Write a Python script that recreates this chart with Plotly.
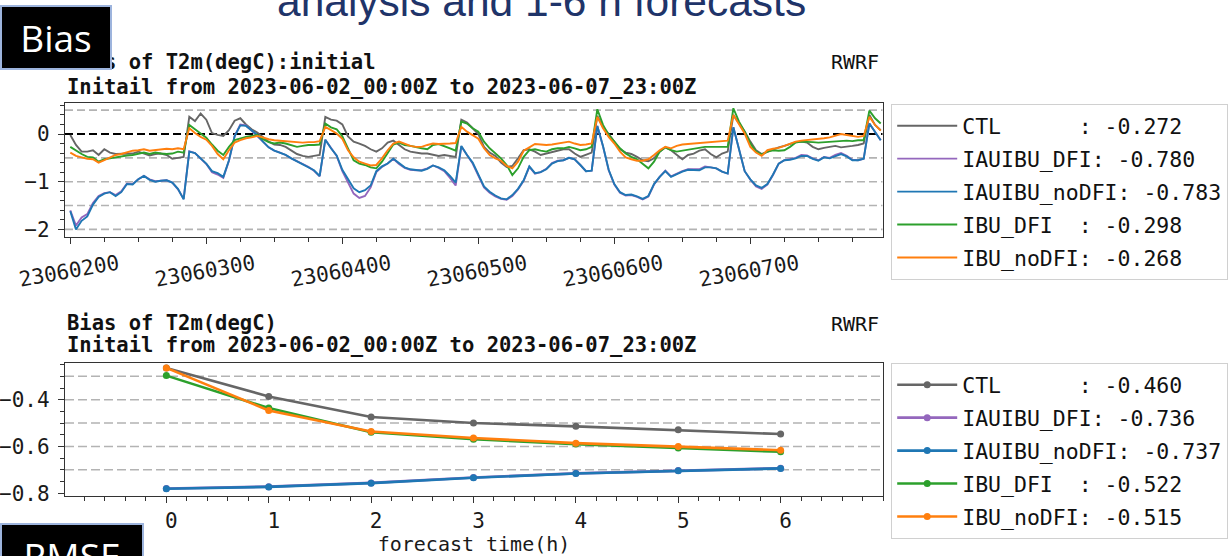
import plotly.graph_objects as go
import pandas as pd

W, H = 1228, 556

# ---------------- data ----------------
init_times = pd.date_range("2023-06-02 00:00", "2023-06-07 23:00", freq="h")
lead_hours = [0, 1, 2, 3, 4, 5, 6]

exp_names = ["CTL", "IAUIBU_DFI", "IAUIBU_noDFI", "IBU_DFI", "IBU_noDFI"]
exp_colors = ["#666666", "#9467bd", "#1f77b4", "#2ca02c", "#ff7f0e"]

init_means = [-0.272, -0.780, -0.783, -0.298, -0.268]
fcst_means = [-0.460, -0.736, -0.737, -0.522, -0.515]

ctl_init = [
    -0.02, -0.23, -0.37, -0.37, -0.34, -0.44, -0.32, -0.39, -0.42, -0.42, -0.42, -0.41,
    -0.37, -0.41, -0.45, -0.42, -0.41, -0.44, -0.52, -0.50, -0.48, 0.36, 0.27, 0.43,
    0.30, 0.02, -0.02, -0.04, 0.08, 0.28, 0.33, 0.20, 0.10, 0.03, -0.07, -0.16,
    -0.22, -0.23, -0.27, -0.34, -0.42, -0.46, -0.48, -0.46, -0.44, 0.36, 0.30, 0.28,
    0.20, -0.05, -0.16, -0.20, -0.25, -0.32, -0.37, -0.30, -0.18, -0.14, -0.23, -0.32,
    -0.37, -0.39, -0.41, -0.41, -0.44, -0.46, -0.44, -0.46, -0.48, 0.30, 0.24, 0.12,
    0.00, -0.27, -0.39, -0.46, -0.60, -0.69, -0.67, -0.51, -0.34, -0.32, -0.37, -0.44,
    -0.41, -0.37, -0.34, -0.32, -0.32, -0.41, -0.48, -0.44, -0.39, 0.38, 0.15, 0.00,
    -0.16, -0.32, -0.39, -0.42, -0.48, -0.55, -0.57, -0.51, -0.37, -0.28, -0.34, -0.44,
    -0.53, -0.44, -0.41, -0.35, -0.32, -0.42, -0.49, -0.41, -0.37, 0.40, 0.22, 0.05,
    -0.16, -0.34, -0.42, -0.37, -0.32, -0.28, -0.25, -0.21, -0.17, -0.16, -0.18, -0.27,
    -0.32, -0.29, -0.27, -0.25, -0.28, -0.27, -0.25, -0.23, -0.20, 0.40, 0.19, 0.08,
]

iauibu_dfi_init = [
    -1.60, -1.92, -1.75, -1.68, -1.45, -1.30, -1.24, -1.22, -1.28, -1.20, -1.04, -1.05,
    -0.95, -0.88, -0.95, -0.99, -0.98, -0.97, -1.02, -1.16, -1.36, -0.36, -0.40, -0.52,
    -0.63, -0.80, -0.85, -0.92, -0.56, -0.04, 0.20, 0.18, 0.07, -0.03, -0.16, -0.28,
    -0.35, -0.39, -0.44, -0.51, -0.57, -0.63, -0.69, -0.77, -0.89, -0.12, -0.30, -0.46,
    -0.78, -1.02, -1.25, -1.34, -1.30, -1.12, -0.80, -0.69, -0.62, -0.52, -0.63, -0.71,
    -0.75, -0.76, -0.76, -0.72, -0.66, -0.71, -0.78, -0.92, -1.08, -0.26, -0.45, -0.62,
    -0.87, -1.12, -1.23, -1.31, -1.36, -1.38, -1.30, -1.16, -0.98, -0.69, -0.83, -0.80,
    -0.73, -0.61, -0.56, -0.55, -0.50, -0.53, -0.65, -0.78, -0.77, 0.17, -0.26, -0.76,
    -1.06, -1.23, -1.29, -1.28, -1.32, -1.37, -1.31, -1.06, -0.90, -0.77, -0.89, -0.83,
    -0.78, -0.74, -0.74, -0.74, -0.68, -0.70, -0.72, -0.79, -0.83, 0.14, -0.32, -0.78,
    -0.96, -1.10, -1.15, -1.06, -0.86, -0.62, -0.55, -0.53, -0.50, -0.44, -0.45, -0.51,
    -0.55, -0.48, -0.50, -0.44, -0.40, -0.46, -0.54, -0.55, -0.52, 0.22, 0.05, -0.13,
]

iauibu_nodfi_init = [
    -1.62, -2.00, -1.82, -1.73, -1.48, -1.32, -1.25, -1.22, -1.30, -1.22, -1.05, -1.06,
    -0.95, -0.88, -0.96, -1.00, -0.98, -0.97, -1.02, -1.15, -1.37, -0.37, -0.40, -0.52,
    -0.62, -0.78, -0.82, -0.90, -0.55, -0.05, 0.18, 0.17, 0.07, -0.02, -0.16, -0.28,
    -0.35, -0.39, -0.44, -0.51, -0.57, -0.63, -0.69, -0.76, -0.88, -0.12, -0.30, -0.45,
    -0.75, -0.95, -1.14, -1.22, -1.18, -1.08, -0.78, -0.68, -0.62, -0.52, -0.62, -0.70,
    -0.74, -0.76, -0.77, -0.73, -0.66, -0.70, -0.76, -0.88, -1.02, -0.25, -0.44, -0.60,
    -0.85, -1.10, -1.21, -1.29, -1.35, -1.37, -1.28, -1.15, -0.97, -0.68, -0.82, -0.80,
    -0.74, -0.62, -0.57, -0.55, -0.50, -0.53, -0.65, -0.78, -0.77, 0.17, -0.25, -0.75,
    -1.05, -1.22, -1.28, -1.27, -1.31, -1.36, -1.30, -1.05, -0.90, -0.78, -0.90, -0.84,
    -0.79, -0.75, -0.76, -0.76, -0.70, -0.70, -0.72, -0.79, -0.83, 0.14, -0.32, -0.78,
    -0.95, -1.08, -1.13, -1.05, -0.85, -0.62, -0.55, -0.54, -0.51, -0.46, -0.46, -0.52,
    -0.56, -0.49, -0.51, -0.46, -0.42, -0.47, -0.55, -0.55, -0.52, 0.22, 0.05, -0.13,
]

ibu_dfi_init = [
    -0.27, -0.35, -0.42, -0.48, -0.49, -0.58, -0.53, -0.51, -0.49, -0.46, -0.45, -0.44,
    -0.41, -0.39, -0.42, -0.39, -0.41, -0.42, -0.41, -0.37, -0.39, 0.19, 0.10, 0.00,
    -0.08, -0.22, -0.35, -0.44, -0.27, -0.13, -0.09, -0.06, -0.04, -0.02, -0.11, -0.17,
    -0.20, -0.18, -0.20, -0.23, -0.27, -0.25, -0.23, -0.23, -0.22, 0.22, 0.14, 0.10,
    -0.05, -0.30, -0.55, -0.62, -0.65, -0.70, -0.72, -0.58, -0.40, -0.22, -0.18, -0.23,
    -0.25, -0.28, -0.30, -0.32, -0.23, -0.21, -0.25, -0.30, -0.35, 0.26, 0.22, 0.12,
    0.05, -0.16, -0.30, -0.41, -0.51, -0.65, -0.86, -0.72, -0.48, -0.34, -0.32, -0.35,
    -0.37, -0.32, -0.30, -0.30, -0.27, -0.30, -0.34, -0.32, -0.27, 0.52, 0.19, -0.02,
    -0.16, -0.30, -0.41, -0.48, -0.53, -0.63, -0.72, -0.58, -0.37, -0.28, -0.34, -0.37,
    -0.35, -0.32, -0.30, -0.29, -0.27, -0.27, -0.27, -0.27, -0.27, 0.54, 0.26, 0.05,
    -0.20, -0.37, -0.43, -0.37, -0.34, -0.35, -0.34, -0.27, -0.18, -0.16, -0.16, -0.17,
    -0.18, -0.17, -0.17, -0.16, -0.15, -0.14, -0.15, -0.13, -0.13, 0.49, 0.33, 0.22,
]

ibu_nodfi_init = [
    -0.39, -0.46, -0.49, -0.52, -0.53, -0.60, -0.55, -0.49, -0.44, -0.42, -0.39, -0.35,
    -0.34, -0.32, -0.35, -0.34, -0.32, -0.31, -0.32, -0.30, -0.32, 0.12, 0.02, -0.06,
    -0.12, -0.25, -0.42, -0.53, -0.34, -0.18, -0.13, -0.09, -0.07, -0.04, -0.07, -0.11,
    -0.13, -0.14, -0.15, -0.16, -0.17, -0.18, -0.17, -0.17, -0.15, 0.15, 0.08, 0.01,
    -0.10, -0.34, -0.49, -0.58, -0.62, -0.66, -0.65, -0.51, -0.34, -0.20, -0.16, -0.21,
    -0.25, -0.27, -0.27, -0.23, -0.20, -0.21, -0.21, -0.20, -0.19, 0.15, 0.05, -0.03,
    -0.10, -0.30, -0.44, -0.51, -0.56, -0.67, -0.72, -0.58, -0.35, -0.28, -0.21, -0.22,
    -0.23, -0.22, -0.20, -0.17, -0.16, -0.20, -0.23, -0.22, -0.20, 0.36, 0.12, -0.06,
    -0.20, -0.37, -0.49, -0.53, -0.56, -0.56, -0.53, -0.44, -0.34, -0.27, -0.30, -0.25,
    -0.22, -0.21, -0.20, -0.20, -0.18, -0.17, -0.16, -0.15, -0.14, 0.40, 0.19, 0.01,
    -0.27, -0.39, -0.46, -0.34, -0.31, -0.29, -0.25, -0.20, -0.16, -0.14, -0.13, -0.11,
    -0.10, -0.09, -0.07, -0.04, 0.00, -0.02, -0.04, -0.06, -0.04, 0.36, 0.19, 0.07,
]

ctl_fcst = [-0.264, -0.386, -0.474, -0.500, -0.514, -0.529, -0.547]
iauibu_dfi_fcst = [-0.780, -0.772, -0.756, -0.733, -0.715, -0.703, -0.693]
iauibu_nodfi_fcst = [-0.781, -0.773, -0.757, -0.734, -0.716, -0.704, -0.694]
ibu_dfi_fcst = [-0.297, -0.436, -0.539, -0.569, -0.590, -0.607, -0.623]
ibu_nodfi_fcst = [-0.264, -0.446, -0.536, -0.564, -0.586, -0.600, -0.616]

init_series = [ctl_init, iauibu_dfi_init, iauibu_nodfi_init, ibu_dfi_init, ibu_nodfi_init]
fcst_series = [ctl_fcst, iauibu_dfi_fcst, iauibu_nodfi_fcst, ibu_dfi_fcst, ibu_nodfi_fcst]

top_ref_lines = [0.5, -0.5, -1.0, -1.5, -2.0]
bottom_ref_lines = [-0.3, -0.4, -0.5, -0.6, -0.7]

title_top_1 = "Bias of T2m(degC):initial"
title_bot_1 = "Bias of T2m(degC)"
title_2 = "Initail from 2023-06-02_00:00Z to 2023-06-07_23:00Z"
model_tag = "RWRF"
xlabel_bottom = "forecast time(h)"
slide_heading = "analysis and 1-6 h forecasts"


# ---------------- helpers ----------------
def px(x):
    return x / W


def py(y):
    return 1 - y / H


def legend_label(name, mean):
    return f"{name:<9}: {mean:.3f}".replace(" ", "\u00a0")


MONO = "DejaVu Sans Mono"
AX = "#333333"

fig = go.Figure()

for k, (name, col, vals, m) in enumerate(zip(exp_names, exp_colors, init_series, init_means)):
    fig.add_trace(go.Scatter(
        x=init_times, y=vals, mode="lines", name=legend_label(name, m),
        line=dict(color=col, width=1.9), legend="legend", legendgroup=f"i{k}",
        xaxis="x", yaxis="y"))

for k, (name, col, vals, m) in enumerate(zip(exp_names, exp_colors, fcst_series, fcst_means)):
    fig.add_trace(go.Scatter(
        x=lead_hours, y=vals, mode="lines+markers", name=legend_label(name, m),
        line=dict(color=col, width=2.6), marker=dict(color=col, size=7),
        legend="legend2", legendgroup=f"f{k}", xaxis="x2", yaxis="y2"))

shapes = []
for v in top_ref_lines:
    shapes.append(dict(type="line", xref="x domain", yref="y", x0=0, x1=1, y0=v, y1=v,
                       line=dict(color="#b3b3b3", width=1.6, dash="8px,4px"), layer="below"))
shapes.append(dict(type="line", xref="x domain", yref="y", x0=0, x1=1, y0=0, y1=0,
                   line=dict(color="#000000", width=1.8, dash="8px,4px"), layer="below"))
for v in bottom_ref_lines:
    shapes.append(dict(type="line", xref="x2 domain", yref="y2", x0=0, x1=1, y0=v, y1=v,
                       line=dict(color="#b3b3b3", width=1.6, dash="9px,4px"), layer="below"))

tickfont = dict(family=MONO, size=21, color="#1a1a1a")
common_axis = dict(showgrid=False, zeroline=False, showline=True, mirror=True,
                   linecolor=AX, linewidth=1.4, ticks="outside", tickcolor=AX,
                   tickwidth=1.3, ticklen=6, tickfont=tickfont, automargin=False)

fig.update_layout(
    width=W, height=H, margin=dict(l=0, r=0, t=0, b=0),
    paper_bgcolor="white", plot_bgcolor="white", showlegend=True,
    shapes=shapes,
    xaxis=dict(common_axis, domain=[px(65), px(882.5)], anchor="y", type="date",
               range=["2023-06-01 23:04", "2023-06-07 23:19"],
               tick0="2023-06-02", dtick=86400000, tickformat="%y%m%d%H",
               tickangle=-10, ticklabelshift=48,
               minor=dict(dtick=6 * 3600000, ticks="outside", ticklen=3.5,
                          tickwidth=1, tickcolor=AX)),
    yaxis=dict(common_axis, domain=[py(237), py(103)], anchor="x",
               range=[-2.16, 0.65], tick0=0, dtick=1, ticklabelstandoff=4,
               minor=dict(dtick=0.2, ticks="outside", ticklen=3.5, tickwidth=1, tickcolor=AX)),
    xaxis2=dict(common_axis, domain=[px(65), px(883)], anchor="y2",
                range=[-0.99, 7.0], tickvals=lead_hours, ticklabelshift=5,
                title=dict(text=xlabel_bottom, font=dict(family=MONO, size=20, color="#1a1a1a"),
                           standoff=7),
                minor=dict(dtick=0.2, tick0=0, ticks="outside", ticklen=3.5, tickwidth=1,
                           tickcolor=AX)),
    yaxis2=dict(common_axis, domain=[py(496), py(363)], anchor="x2",
                range=[-0.812, -0.243], tick0=-0.4, dtick=0.2, ticklabelstandoff=4,
                minor=dict(dtick=0.05, ticks="outside", ticklen=3.5, tickwidth=1, tickcolor=AX)),
    legend=dict(x=px(891), y=py(104), xanchor="left", yanchor="top", bgcolor="white",
                bordercolor="#d0d0d0", borderwidth=1.2, tracegroupgap=2, itemwidth=60,
                font=dict(family=MONO, size=21.5, color="#111111")),
    legend2=dict(x=px(891), y=py(363), xanchor="left", yanchor="top", bgcolor="white",
                 bordercolor="#d0d0d0", borderwidth=1.2, tracegroupgap=2, itemwidth=60,
                 font=dict(family=MONO, size=21.5, color="#111111")),
)

ann = []
title_font = dict(family=MONO, size=20.5, color="#111111")
ann.append(dict(text=f"<b>{title_top_1}</b>", x=px(65), y=py(62), xref="paper", yref="paper",
                xanchor="left", yanchor="middle", showarrow=False, font=title_font))
ann.append(dict(text=f"<b>{title_2}</b>", x=px(65), y=py(86.5), xref="paper", yref="paper",
                xanchor="left", yanchor="middle", showarrow=False, font=title_font))
ann.append(dict(text=model_tag, x=px(881), y=py(62.5), xref="paper", yref="paper",
                xanchor="right", yanchor="middle", showarrow=False,
                font=dict(family=MONO, size=20, color="#111111")))
ann.append(dict(text=f"<b>{title_bot_1}</b>", x=px(65), y=py(323), xref="paper", yref="paper",
                xanchor="left", yanchor="middle", showarrow=False, font=title_font))
ann.append(dict(text=f"<b>{title_2}</b>", x=px(65), y=py(345), xref="paper", yref="paper",
                xanchor="left", yanchor="middle", showarrow=False, font=title_font))
ann.append(dict(text=model_tag, x=px(881), y=py(324), xref="paper", yref="paper",
                xanchor="right", yanchor="middle", showarrow=False,
                font=dict(family=MONO, size=20, color="#111111")))
# slide overlays
ann.append(dict(text=slide_heading, x=px(541.5), y=py(27), xref="paper", yref="paper",
                xanchor="center", yanchor="bottom", showarrow=False,
                font=dict(family="Liberation Sans", size=42.5, color="#1f3469")))
ann.append(dict(text="Bias", x=px(0), y=py(5), xref="paper", yref="paper",
                xanchor="left", yanchor="top", showarrow=False, width=108, height=61,
                bgcolor="#000000", bordercolor="#9db4dd", borderwidth=2, borderpad=0,
                font=dict(family="Open Sans", size=37, color="#ffffff")))
ann.append(dict(text="RMSE", x=px(0), y=py(523), xref="paper", yref="paper",
                xanchor="left", yanchor="top", showarrow=False, width=140, height=60,
                bgcolor="#000000", bordercolor="#9db4dd", borderwidth=2, borderpad=0,
                font=dict(family="Open Sans", size=37, color="#ffffff")))
fig.update_layout(annotations=ann)

fig.write_html("out.html", config={"displayModeBar": False},
               post_script="document.body.style.margin='0px';")
